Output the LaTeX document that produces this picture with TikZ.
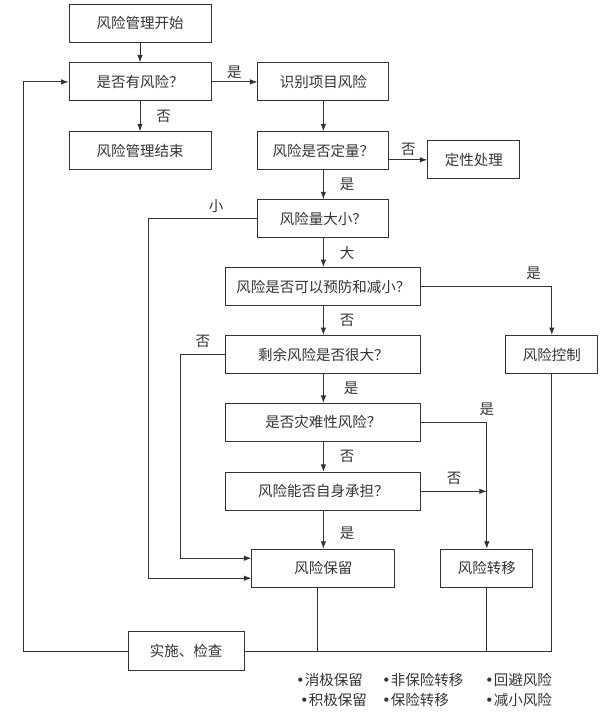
\documentclass[tikz,border=0pt]{standalone}
\usepackage{fontspec}
\setmainfont{Noto Sans CJK SC}
\newfontfamily\dotfont{DejaVu Sans}
\usetikzlibrary{positioning, arrows.meta}

\newcommand{\itemdot}{{\dotfont •}}

\begin{document}
\begin{tikzpicture}[
    x=1pt, y=-1pt,
    >={Latex[length=7.5pt,width=5.5pt]},
    font=\fontsize{14.5}{16}\selectfont,
    box/.style={rectangle, draw=black!80, line width=0.9pt, minimum height=38pt, inner sep=2pt, align=center, text=black!80},
    arrow/.style={->, line width=0.9pt, draw=black!80},
    line/.style={line width=0.9pt, draw=black!80},
    lbl/.style={text=black!80, inner sep=2pt},
]
\useasboundingbox (0,0) rectangle (604,720);

% left column
\node[box, minimum width=142pt] (start) at (140,23) {风险管理开始};
\node[box, minimum width=142pt, below=20pt of start] (q1) {是否有风险？};
\node[box, minimum width=142pt, below=30pt of q1] (end) {风险管理结束};

% main column
\node[box, minimum width=131pt, right=46pt of q1] (identify) {识别项目风险};
\node[box, minimum width=131pt, below=30pt of identify] (quant) {风险是否定量？};
\node[box, minimum width=92pt, right=38pt of quant, yshift=-9pt] (qual) {定性处理};
\node[box, minimum width=131pt, below=29pt of quant] (size) {风险量大小？};
\node[box, minimum width=195pt, below=29pt of size] (prevent) {风险是否可以预防和减小？};
\node[box, minimum width=195pt, below=29pt of prevent] (residual) {剩余风险是否很大？};
\node[box, minimum width=92pt, right=84pt of residual] (control) {风险控制};
\node[box, minimum width=195pt, below=29pt of residual] (disaster) {是否灾难性风险？};
\node[box, minimum width=195pt, below=30pt of disaster] (bear) {风险能否自身承担？};
\node[box, minimum width=143pt, below=38pt of bear] (retain) {风险保留};
\node[box, minimum width=92pt, right=45pt of retain] (transfer) {风险转移};
\node[box, minimum width=116pt, minimum height=39pt] (implement) at (186,651) {实施、检查};

% measures
\node[lbl, anchor=west] (m1) at (294,680) {\itemdot 消极保留};
\node[lbl, anchor=west] (m2) at (298,700) {\itemdot 积极保留};
\node[lbl, anchor=west] (m3) at (380,680) {\itemdot 非保险转移};
\node[lbl, anchor=west] (m4) at (380,700) {\itemdot 保险转移};
\node[lbl, anchor=west] (m5) at (483,680) {\itemdot 回避风险};
\node[lbl, anchor=west] (m6) at (483,700) {\itemdot 减小风险};

% start
\draw[arrow] (start) -- (q1);
\draw[arrow] (q1) -- node[lbl, above=1pt] {是} (identify);
\draw[arrow] (q1) -- node[lbl, right=14pt] {否} (end);

% analysis
\draw[arrow] (identify) -- (quant);
\draw[arrow] (quant.east |- qual.west) -- node[lbl, above=2pt] {否} (qual.west);
\draw[arrow] (quant) -- node[lbl, right=14pt] {是} (size);
\draw[arrow] (size) -- node[lbl, right=14pt] {大} (prevent);
\draw[arrow] (size.west) -- node[lbl, pos=0.38, above=4pt] {小} ++(-109,0) |- ([yshift=-10pt]retain.west);

% handling
\draw[arrow] (prevent.east) -| node[lbl, pos=0.43, above=4pt] {是} (control.north);
\draw[arrow] (prevent) -- node[lbl, right=14pt] {否} (residual);
\draw[arrow] (residual.west) -- node[lbl, midway, above=4pt] {否} ++(-45,0) |- ([yshift=10pt]retain.west);
\draw[arrow] (residual) -- node[lbl, right=18pt] {是} (disaster);
\draw[arrow] (disaster.east) -| node[lbl, pos=0.5, above=4pt] {是} (transfer.north);
\draw[arrow] (disaster) -- node[lbl, right=14pt] {否} (bear);
\draw[arrow] (bear.east) -- node[lbl, midway, above=4pt] {否} (bear.east -| transfer.north);
\draw[arrow] (bear) -- node[lbl, pos=0.6, right=14pt] {是} (retain);

% implementation and feedback
\draw[line] (control.south) |- (implement.east);
\draw[line] ([xshift=-6pt]retain.south) -- ([xshift=-6pt]retain.south |- implement.east);
\draw[line] (transfer.south) -- (transfer.south |- implement.east);
\draw[arrow] (implement.west) -- ++(-104,0) |- (q1.west);

\end{tikzpicture}
\end{document}
